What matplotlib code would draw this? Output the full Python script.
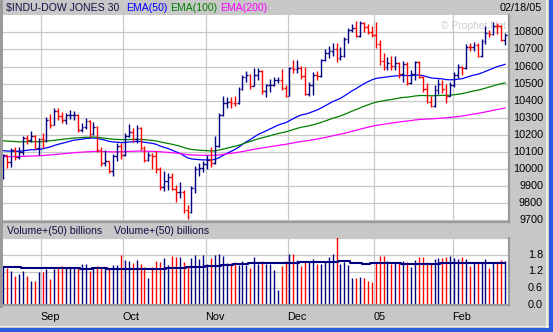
import numpy as np
import matplotlib
matplotlib.use("Agg")
import matplotlib.pyplot as plt
from matplotlib.collections import LineCollection
from matplotlib.patches import Rectangle
from matplotlib.transforms import blended_transform_factory

plt.rcParams['font.family'] = ['Liberation Sans', 'DejaVu Sans']

# ---------------- data: $INDU daily bars, 08/18/04 .. 02/18/05 ----------------
opens = [
    9973, 10083, 10040, 10110, 10073, 10098, 10181, 10173, 10196, 10122,            # Aug
    10174, 10168, 10290, 10260, 10341, 10313, 10289, 10314, 10315, 10318,            # Sep
    10231, 10244, 10284, 10204, 10244, 10109, 10038, 10047, 9988, 10077, 10137,
    10080, 10192, 10216, 10177, 10239, 10125, 10055, 10081, 10077, 10002,            # Oct
    9894, 9933, 9956, 9886, 9865, 9866, 9758, 9750, 9888, 10002, 10005,
    10027, 10054, 10035, 10137, 10315, 10387, 10391, 10386, 10385, 10469,            # Nov
    10539, 10550, 10487, 10549, 10572, 10456, 10489, 10492, 10520, 10522, 10475,
    10428, 10590, 10585, 10592, 10547, 10440, 10494, 10552, 10543, 10638,            # Dec
    10677, 10691, 10705, 10649, 10661, 10759, 10815, 10828, 10776, 10854, 10829, 10800,
    10783, 10730, 10630, 10597, 10622, 10603, 10621, 10556, 10617, 10505,            # Jan
    10558, 10628, 10539, 10471, 10393, 10368, 10461, 10498, 10467, 10427,
    10490, 10551, 10596, 10593, 10716, 10715, 10724, 10664, 10749, 10796,            # Feb
    10791, 10837, 10834, 10754,
]
highs = [
    10088, 10085, 10125, 10131, 10130, 10195, 10200, 10220, 10200, 10182,
    10212, 10305, 10325, 10360, 10355, 10335, 10330, 10345, 10340, 10320,
    10270, 10300, 10290, 10275, 10250, 10130, 10110, 10050, 10090, 10150, 10150,
    10210, 10262, 10240, 10255, 10245, 10135, 10100, 10095, 10105, 10010,
    9990, 9975, 9980, 9905, 9925, 9880, 9790, 9900, 10020, 10035, 10050,
    10085, 10131, 10195, 10330, 10430, 10420, 10420, 10430, 10480, 10550,
    10575, 10555, 10590, 10590, 10580, 10500, 10525, 10540, 10540, 10585, 10490,
    10600, 10640, 10640, 10605, 10600, 10510, 10570, 10575, 10645, 10700,
    10720, 10735, 10740, 10715, 10770, 10825, 10850, 10865, 10868, 10860, 10850, 10835,
    10860, 10755, 10680, 10655, 10660, 10660, 10625, 10630, 10625, 10580,
    10635, 10635, 10545, 10505, 10425, 10490, 10525, 10520, 10500, 10510,
    10570, 10615, 10605, 10730, 10740, 10745, 10740, 10760, 10835, 10815,
    10862, 10855, 10845, 10795,
]
lows = [
    9940, 10005, 10015, 10055, 10060, 10080, 10145, 10160, 10115, 10085,
    10122, 10160, 10240, 10255, 10290, 10270, 10265, 10295, 10285, 10215,
    10215, 10235, 10185, 10200, 10100, 10020, 10020, 9975, 9960, 10050, 10060,
    10075, 10185, 10160, 10150, 10110, 10040, 10045, 10000, 9980, 9875,
    9870, 9880, 9880, 9810, 9830, 9745, 9707, 9745, 9860, 9960, 9985,
    10000, 10015, 10030, 10130, 10310, 10360, 10360, 10370, 10380, 10460,
    10510, 10470, 10485, 10520, 10440, 10420, 10450, 10485, 10505, 10460, 10420,
    10425, 10560, 10560, 10525, 10435, 10430, 10435, 10520, 10540, 10630,
    10650, 10660, 10625, 10640, 10655, 10740, 10800, 10770, 10770, 10800, 10790, 10775,
    10710, 10610, 10580, 10580, 10580, 10580, 10535, 10510, 10490, 10500,
    10520, 10530, 10450, 10385, 10365, 10365, 10440, 10445, 10385, 10425,
    10480, 10535, 10550, 10585, 10690, 10690, 10655, 10655, 10730, 10775,
    10785, 10790, 10750, 10725,
]
closes = [
    10083, 10040, 10110, 10073, 10098, 10181, 10173, 10196, 10122, 10174,
    10168, 10290, 10260, 10341, 10313, 10289, 10314, 10315, 10318, 10231,
    10244, 10284, 10204, 10244, 10109, 10038, 10047, 9988, 10077, 10137, 10080,
    10192, 10216, 10177, 10239, 10125, 10055, 10081, 10077, 10002, 9894,
    9933, 9956, 9886, 9865, 9866, 9758, 9750, 9888, 10002, 10005, 10027,
    10054, 10035, 10137, 10315, 10387, 10391, 10386, 10385, 10469, 10539,
    10550, 10487, 10549, 10572, 10456, 10489, 10492, 10520, 10522, 10475, 10428,
    10590, 10585, 10592, 10547, 10440, 10494, 10552, 10543, 10638, 10677,
    10691, 10705, 10649, 10661, 10759, 10815, 10828, 10776, 10854, 10829, 10800, 10783,
    10730, 10630, 10597, 10622, 10603, 10621, 10556, 10617, 10505, 10558,
    10628, 10539, 10471, 10393, 10368, 10461, 10498, 10467, 10427, 10490,
    10551, 10596, 10593, 10716, 10715, 10724, 10664, 10749, 10796, 10791,
    10837, 10834, 10754, 10785,
]
# volume, billions of shares
volume = [
    1.35, 1.31, 1.22, 1.04, 1.11, 1.22, 1.04, 0.86, 0.86, 1.17,
    1.17, 1.29, 0.93, 1.29, 1.31, 1.40, 1.31, 1.31, 1.31, 1.31,
    1.46, 1.47, 1.22, 1.35, 1.40, 1.31, 1.34, 1.28, 1.43, 1.43, 1.79,
    1.61, 1.59, 1.49, 1.61, 1.47, 1.37, 0.98, 1.37, 1.58, 1.53,
    1.70, 1.43, 1.76, 1.71, 1.71, 1.55, 1.40, 1.70, 1.79, 1.65, 1.79,
    1.46, 1.70, 1.79, 1.83, 1.77, 1.49, 1.49, 1.55, 1.43, 1.58,
    1.43, 1.31, 1.71, 1.46, 1.58, 1.46, 1.46, 1.25, 0.54, 1.40, 1.58,
    1.83, 1.83, 1.61, 1.40, 1.58, 1.58, 1.65, 1.46, 1.47, 1.55,
    1.71, 1.83, 2.50, 1.47, 1.55, 1.43, 0.98, 0.98, 1.00, 0.96, 0.86, 0.81,
    1.53, 1.76, 1.76, 1.58, 1.46, 1.53, 1.49, 1.58, 1.53, 1.35,
    1.61, 1.71, 1.71, 1.55, 1.52, 1.65, 1.68, 1.70, 1.71, 1.76,
    1.70, 1.65, 1.71, 1.64, 1.40, 1.53, 1.53, 1.49, 1.64, 1.34,
    1.55, 1.53, 1.61, 1.58,
]
# 50-day average volume, billions
volume_avg = [
    1.37, 1.37, 1.37, 1.37, 1.37, 1.34, 1.34, 1.34, 1.34, 1.34,
    1.34, 1.31, 1.31, 1.31, 1.31, 1.31, 1.31, 1.31, 1.31, 1.31,
    1.29, 1.29, 1.29, 1.31, 1.31, 1.31, 1.31, 1.28, 1.28, 1.28, 1.28,
    1.28, 1.28, 1.29, 1.29, 1.29, 1.29, 1.29, 1.29, 1.29, 1.29,
    1.29, 1.34, 1.34, 1.34, 1.34, 1.34, 1.35, 1.35, 1.35, 1.35, 1.35,
    1.40, 1.40, 1.40, 1.40, 1.43, 1.43, 1.43, 1.46, 1.46, 1.46,
    1.46, 1.49, 1.49, 1.49, 1.49, 1.49, 1.49, 1.49, 1.49, 1.49, 1.49,
    1.49, 1.49, 1.49, 1.53, 1.53, 1.53, 1.53, 1.53, 1.53, 1.53,
    1.53, 1.53, 1.53, 1.58, 1.58, 1.58, 1.50, 1.50, 1.50, 1.46, 1.46, 1.49,
    1.49, 1.49, 1.49, 1.49, 1.49, 1.49, 1.49, 1.46, 1.46, 1.46,
    1.46, 1.46, 1.46, 1.46, 1.46, 1.46, 1.46, 1.49, 1.49, 1.49,
    1.49, 1.49, 1.49, 1.49, 1.52, 1.52, 1.52, 1.52, 1.52, 1.52,
    1.52, 1.52, 1.52, 1.52,
]
# EMA values on the first bar (carried over from earlier history)
ema_start = {50: 10108, 100: 10166, 200: 10073}
ema_colors = {50: '#0000FF', 100: '#008000', 200: '#FF00FF'}

month_labels = ['Sep', 'Oct', 'Nov', 'Dec', '05', 'Feb']
month_first_bar = [10, 31, 52, 73, 95, 115]
price_ticks = list(range(9700, 10900, 100))
volume_ticks = [0.0, 0.6, 1.2, 1.8]
last_date = '02/18/05'

# ---------------- figure ----------------
W, H = 553, 332
BG = '#C8C8C8'
NAVY = '#000080'
RED = '#FF0000'
BORDER = '#9A9A9A'

fig = plt.figure(figsize=(W / 100, H / 100), dpi=100, facecolor=BG)


def fx(px):
    return px / W


def fy(py):
    return 1 - py / H


n = len(closes)
x = np.arange(n)
o, h, l, c = map(np.asarray, (opens, highs, lows, closes))
prev = np.concatenate([[o[0]], c[:-1]])
bar_colors = [NAVY if c[i] >= prev[i] else RED for i in range(n)]

xlim = (-0.08, 129.0)

# price panel
ax = fig.add_axes([fx(3), fy(222), fx(506), 207 / H])
ax.set_facecolor('white')
ax.set_xlim(*xlim)
ax.set_ylim(9690.6, 10901.2)
ax.set_xticks([])
ax.set_yticks([])
ax.spines['top'].set_visible(False)
ax.spines['left'].set_visible(False)
for s in ('bottom', 'right'):
    ax.spines[s].set_color(BORDER)
    ax.spines[s].set_linewidth(1.6)

gx = [m - 0.4 for m in month_first_bar]
for v in price_ticks:
    ax.axhline(v, color='#C8C8C8', lw=0.9, zorder=0)
for g in gx:
    ax.axvline(g, color='#C8C8C8', lw=0.9, zorder=0)

ax.text(fx(474), fy(26), '\u00a9 Prophet.Net', transform=fig.transFigure,
        ha='center', va='center', fontsize=7.4, color='#CFCFCF', zorder=0.5)

# moving averages
for span, start in ema_start.items():
    a = 2.0 / (span + 1)
    e = np.empty(n)
    e[0] = start
    for i in range(1, n):
        e[i] = e[i - 1] + a * (c[i] - e[i - 1])
    ax.plot(x, e, color=ema_colors[span], lw=0.9, zorder=2)

# OHLC bars
segs = []
for i in range(n):
    segs.append([(x[i], l[i]), (x[i], h[i])])
    segs.append([(x[i] - 0.45, o[i]), (x[i], o[i])])
    segs.append([(x[i], c[i]), (x[i] + 0.45, c[i])])
seg_colors = [col for col in bar_colors for _ in range(3)]
ax.add_collection(LineCollection(segs, colors=seg_colors, linewidths=1.0, zorder=3))

tr = blended_transform_factory(fig.transFigure, ax.transData)
for v in price_ticks:
    ax.text(fx(543), v, f'{v}', transform=tr, ha='right', va='center',
            fontsize=7.8, color='black', clip_on=False)

# volume panel
axv = fig.add_axes([fx(3), fy(305), fx(506), 67 / H])
axv.set_facecolor('white')
axv.set_xlim(*xlim)
axv.set_ylim(0, 2.4)
axv.set_xticks([])
axv.set_yticks([])
axv.spines['top'].set_visible(False)
axv.spines['left'].set_visible(False)
for s in ('bottom', 'right'):
    axv.spines[s].set_color(BORDER)
    axv.spines[s].set_linewidth(1.6)
for v in (0.6, 1.2, 1.8, 2.4):
    axv.axhline(v, color='#C8C8C8', lw=0.9, zorder=0)
for g in gx:
    axv.axvline(g, color='#C8C8C8', lw=0.9, zorder=0)
axv.vlines(x, 0, volume, colors=bar_colors, lw=1.0, zorder=2)
axv.step(x, volume_avg, where='mid', color=NAVY, lw=1.5, zorder=3)

trv = blended_transform_factory(fig.transFigure, axv.transData)
for v in volume_ticks:
    axv.text(fx(543), v, f'{v:.1f}', transform=trv, ha='right', va='center',
             fontsize=7.8, color='black', clip_on=False)
trm = blended_transform_factory(axv.transData, fig.transFigure)
for g, lab in zip(gx, month_labels):
    axv.text(g - 0.2, fy(316.7), lab, transform=trm, ha='left', va='center',
             fontsize=7.8, color='black', clip_on=False)

# header texts
fig.text(fx(6), fy(8), '$INDU-DOW JONES 30', ha='left', va='center',
         fontsize=7.6, color='#101048')
fig.text(fx(126), fy(8), 'EMA(50)', ha='left', va='center', fontsize=7.6, color='#0000FF')
fig.text(fx(170), fy(8), 'EMA(100)', ha='left', va='center', fontsize=7.6, color='#008000')
fig.text(fx(220), fy(8), 'EMA(200)', ha='left', va='center', fontsize=7.6, color='#FF00FF')
fig.text(fx(542), fy(8), last_date, ha='right', va='center', fontsize=7.8, color='black')
fig.text(fx(7), fy(230.5), 'Volume+(50) billions', ha='left', va='center',
         fontsize=7.6, color='#101048')
fig.text(fx(114), fy(230.5), 'Volume+(50) billions', ha='left', va='center',
         fontsize=7.6, color='#101048')

# window frame: left strip, right and bottom edges
fig.add_artist(Rectangle((0, fy(308)), fx(3), 308 / H, transform=fig.transFigure,
                         facecolor=BORDER, edgecolor='none'))
fig.add_artist(Rectangle((fx(546), 0), fx(1.5), 1, transform=fig.transFigure,
                         facecolor='#F0F0D8', edgecolor='none'))
fig.add_artist(Rectangle((fx(548.5), 0), fx(4.5), 1, transform=fig.transFigure,
                         facecolor='#2A5AE0', edgecolor='none'))
fig.add_artist(Rectangle((0, fy(327)), fx(548.5), 1.5 / H, transform=fig.transFigure,
                         facecolor='#F0F0F0', edgecolor='none'))
fig.add_artist(Rectangle((0, 0), fx(548.5), 4.5 / H, transform=fig.transFigure,
                         facecolor='#2A5AE0', edgecolor='none'))

fig.savefig('out.png', dpi=100, facecolor=BG)
